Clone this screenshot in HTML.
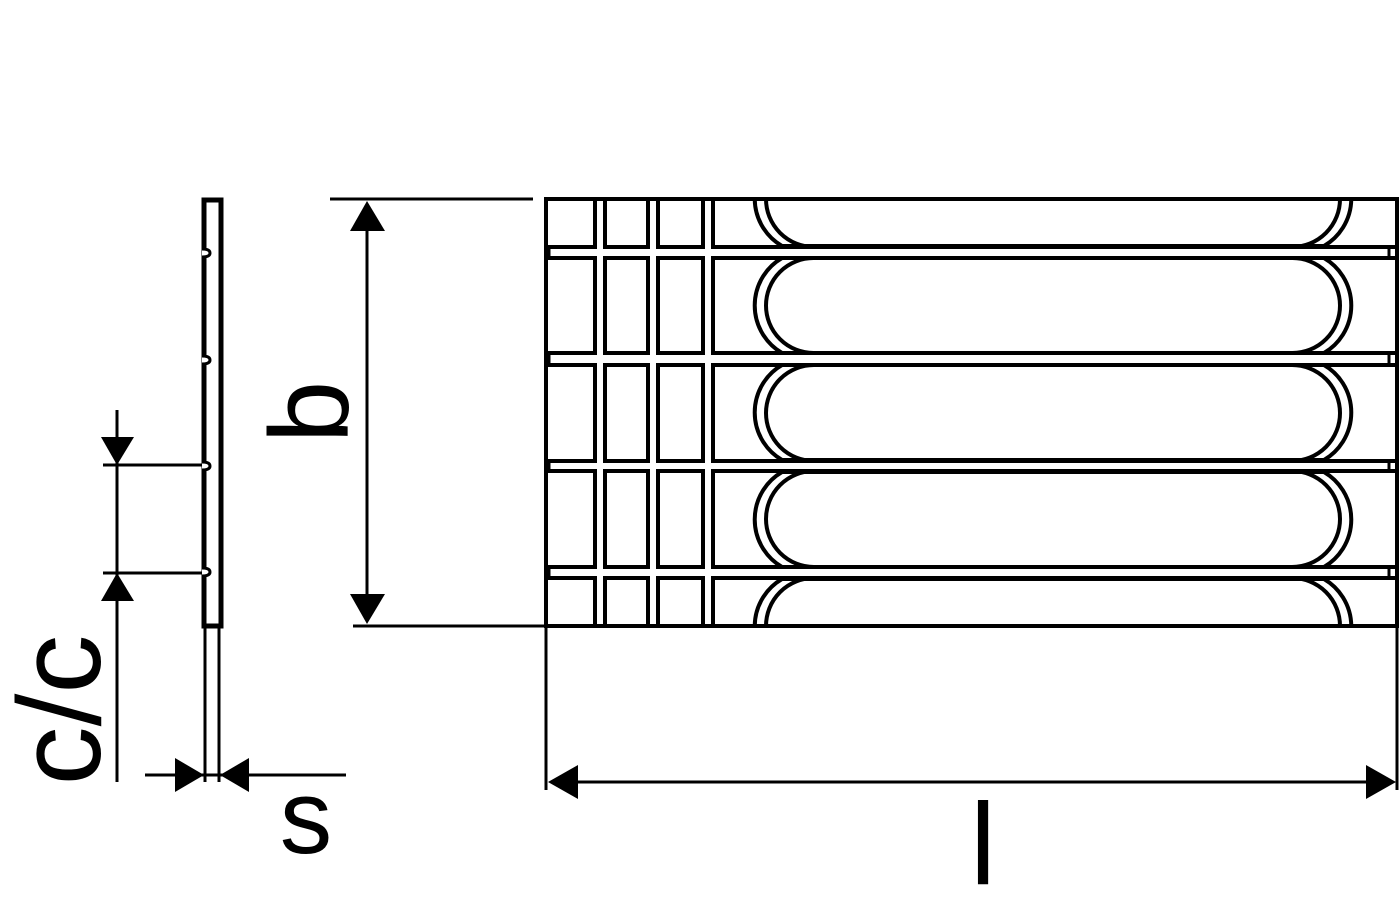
<!DOCTYPE html>
<html><head><meta charset="utf-8"><style>html,body{margin:0;padding:0;background:#fff}svg{display:block}</style></head>
<body>
<svg width="1400" height="900" viewBox="0 0 1400 900" xmlns="http://www.w3.org/2000/svg">
<defs>
<clipPath id="pc"><rect x="546" y="199" width="852" height="427"/></clipPath>
</defs>
<g fill="none" stroke="#000" stroke-width="4">
<rect x="204" y="200" width="17" height="426" stroke-width="5"/>
<line x1="205" y1="626" x2="205" y2="782" stroke-width="3"/>
<line x1="219" y1="626" x2="219" y2="782" stroke-width="3"/>
<line x1="117" y1="410" x2="117" y2="782" stroke-width="3"/>
<line x1="103" y1="465" x2="205" y2="465" stroke-width="3"/>
<line x1="103" y1="573" x2="205" y2="573" stroke-width="3"/>
<line x1="145" y1="775" x2="346" y2="775" stroke-width="3"/>
<line x1="330" y1="199" x2="533" y2="199" stroke-width="3"/>
<line x1="353" y1="626" x2="546" y2="626" stroke-width="3"/>
<line x1="367" y1="210" x2="367" y2="615" stroke-width="3"/>
<line x1="546" y1="628" x2="546" y2="790" stroke-width="3"/>
<line x1="1397" y1="628" x2="1397" y2="790" stroke-width="3"/>
<line x1="555" y1="782" x2="1390" y2="782" stroke-width="3"/>
</g>
<g fill="#000">
<polygon points="117,465 101,437 134,437"/>
<polygon points="117,573 101,601 134,601"/>
<polygon points="204,775 175,758 175,792"/>
<polygon points="220,775 249,758 249,792"/>
<polygon points="367,201 350,231 385,231"/>
<polygon points="367,624 350,594 385,594"/>
<polygon points="548,782 578,765 578,799"/>
<polygon points="1396,782 1366,765 1366,799"/>
</g>
<!-- notches on profile -->
<g fill="#fff" stroke="#000" stroke-width="3">
<path d="M202,249 Q210,249 210,253 Q210,257 202,257"/>
<path d="M202,356 Q210,356 210,360 Q210,364 202,364"/>
<path d="M202,462 Q210,462 210,466 Q210,470 202,470"/>
<path d="M202,568 Q210,568 210,572 Q210,576 202,576"/>
</g>
<g clip-path="url(#pc)" fill="none" stroke="#000" stroke-width="4">
<rect x="546" y="190" width="49" height="57"/><rect x="605" y="190" width="43" height="57"/><rect x="658" y="190" width="45" height="57"/><rect x="713" y="190" width="700" height="57"/>
<rect x="546" y="258" width="49" height="95"/><rect x="605" y="258" width="43" height="95"/><rect x="658" y="258" width="45" height="95"/><rect x="713" y="258" width="700" height="95"/>
<rect x="546" y="365" width="49" height="96"/><rect x="605" y="365" width="43" height="96"/><rect x="658" y="365" width="45" height="96"/><rect x="713" y="365" width="700" height="96"/>
<rect x="546" y="471" width="49" height="96"/><rect x="605" y="471" width="43" height="96"/><rect x="658" y="471" width="45" height="96"/><rect x="713" y="471" width="700" height="96"/>
<rect x="546" y="578" width="49" height="60"/><rect x="605" y="578" width="43" height="60"/><rect x="658" y="578" width="45" height="60"/><rect x="713" y="578" width="700" height="60"/>
<g stroke-width="3">
<line x1="1389" y1="247" x2="1389" y2="258"/><line x1="1389" y1="353" x2="1389" y2="365"/>
<line x1="1389" y1="461" x2="1389" y2="471"/><line x1="1389" y1="567" x2="1389" y2="578"/>
<line x1="549" y1="247" x2="549" y2="258"/><line x1="549" y1="353" x2="549" y2="365"/>
<line x1="549" y1="461" x2="549" y2="471"/><line x1="549" y1="567" x2="549" y2="578"/>
</g>
<g fill="#fff">
<path d="M782,151 A55,55 0 0 0 782,246 L1324,246 A55,55 0 0 0 1324,151 Z"/>
<path d="M782,258 A55,55 0 0 0 782,353 L1324,353 A55,55 0 0 0 1324,258 Z"/>
<path d="M782,365 A55,55 0 0 0 782,460 L1324,460 A55,55 0 0 0 1324,365 Z"/>
<path d="M782,472 A55,55 0 0 0 782,567 L1324,567 A55,55 0 0 0 1324,472 Z"/>
<path d="M782,579 A55,55 0 0 0 782,674 L1324,674 A55,55 0 0 0 1324,579 Z"/>
</g>
<rect x="766" y="151" width="574" height="96" rx="48"/>
<rect x="766" y="258" width="574" height="95" rx="47.5"/>
<rect x="766" y="365" width="574" height="96" rx="48"/>
<rect x="766" y="471" width="574" height="96" rx="48"/>
<rect x="766" y="578" width="574" height="96" rx="48"/>
</g>
<rect x="546" y="199" width="851" height="427" fill="none" stroke="#000" stroke-width="4"/>
<g font-family="Liberation Sans, sans-serif" fill="#000">
<text x="0" y="0" font-size="112" transform="translate(348,412) rotate(-90)" text-anchor="middle">b</text>
<text x="0" y="0" font-size="118" transform="translate(100,710) rotate(-90)" text-anchor="middle">c/c</text>
<text x="306" y="853" font-size="105" text-anchor="middle">s</text>
<text x="983" y="884" font-size="116" text-anchor="middle">l</text>
</g>
</svg>
</body></html>
